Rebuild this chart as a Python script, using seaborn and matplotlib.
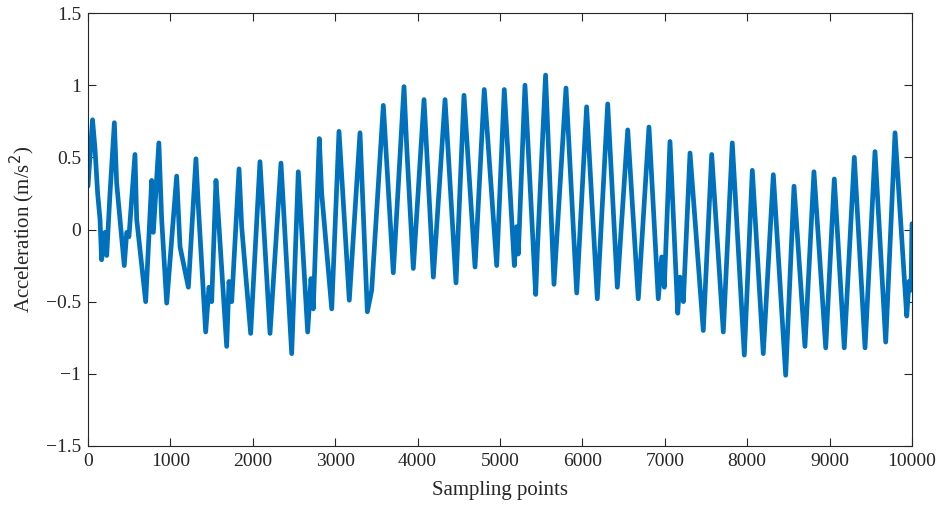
import matplotlib
matplotlib.use("Agg")
import matplotlib.pyplot as plt
import seaborn as sns
import pandas as pd
from matplotlib.ticker import FuncFormatter

# Turning points (sample index, acceleration m/s^2)
sample_idx = [0, 55, 85, 117, 146, 165, 206, 227, 267, 320, 348, 440, 470, 497, 570, 591,
              700, 773, 793, 860, 894, 955, 1076, 1117, 1218, 1310, 1339, 1428, 1468, 1501,
              1553, 1582, 1683, 1711, 1744, 1833, 1865, 1974, 2087, 2209, 2342, 2472, 2552,
              2666, 2706, 2734, 2807, 2836, 2958, 3046, 3171, 3301, 3390, 3443, 3584, 3705,
              3835, 3868, 3948, 4078, 4191, 4333, 4466, 4563, 4697, 4809, 4960, 5052, 5174,
              5203, 5222, 5303, 5433, 5453, 5553, 5655, 5801, 5931, 6051, 6181, 6307, 6424,
              6550, 6678, 6808, 6921, 6962, 6994, 7063, 7157, 7185, 7225, 7306, 7467, 7569,
              7710, 7819, 7965, 8062, 8195, 8317, 8467, 8568, 8701, 8810, 8953, 9057, 9178,
              9300, 9430, 9551, 9681, 9794, 9936, 9964, 9988, 10000]
accel = [0.30, 0.76, 0.56, 0.25, 0.07, -0.21, -0.02, -0.18, 0.25, 0.74, 0.32, -0.25, -0.02,
         -0.05, 0.52, 0.07, -0.50, 0.34, -0.02, 0.60, 0.07, -0.51, 0.37, -0.12, -0.40, 0.49,
         0.16, -0.71, -0.40, -0.50, 0.34, 0.09, -0.81, -0.36, -0.50, 0.42, 0.02, -0.72, 0.47,
         -0.72, 0.46, -0.86, 0.40, -0.71, -0.34, -0.55, 0.63, 0.25, -0.55, 0.68, -0.49, 0.67,
         -0.57, -0.42, 0.86, -0.30, 0.99, 0.57, -0.27, 0.90, -0.33, 0.90, -0.37, 0.93, -0.26,
         0.97, -0.25, 0.97, -0.25, 0.02, -0.17, 1.00, -0.45, -0.15, 1.07, -0.38, 0.98, -0.44,
         0.85, -0.48, 0.87, -0.40, 0.69, -0.48, 0.71, -0.48, -0.19, -0.40, 0.61, -0.58, -0.33,
         -0.50, 0.53, -0.70, 0.52, -0.71, 0.60, -0.87, 0.41, -0.86, 0.38, -1.01, 0.30, -0.81,
         0.40, -0.82, 0.35, -0.82, 0.50, -0.82, 0.54, -0.78, 0.67, -0.60, -0.36, -0.42, 0.04]

x_ticks = [0, 1000, 2000, 3000, 4000, 5000, 6000, 7000, 8000, 9000, 10000]
y_ticks = [-1.5, -1, -0.5, 0, 0.5, 1, 1.5]

sns.set_style("ticks")
plt.rcParams["font.family"] = ["Liberation Serif", "DejaVu Serif"]
plt.rcParams["axes.unicode_minus"] = True

df = pd.DataFrame({"Sampling points": sample_idx, "Acceleration": accel})

fig = plt.figure(figsize=(9.4, 5.12), dpi=100)
ax = fig.add_axes([88 / 940, 1 - 446 / 512, (912 - 88) / 940, (446 - 13) / 512])

sns.lineplot(data=df, x="Sampling points", y="Acceleration", ax=ax,
             color="#0072BD", linewidth=3.4, sort=False, estimator=None)

ax.set_xlim(0, 10000)
ax.set_ylim(-1.5, 1.5)
ax.set_xticks(x_ticks)
ax.set_yticks(y_ticks)


def fmt(v, pos):
    return ("%g" % v).replace("-", "\u2212")


ax.yaxis.set_major_formatter(FuncFormatter(fmt))
ax.xaxis.set_major_formatter(FuncFormatter(lambda v, p: "%d" % v))

for sp in ax.spines.values():
    sp.set_visible(True)
    sp.set_color("#262626")
    sp.set_linewidth(0.8)

ax.tick_params(direction="in", length=6, width=0.8, color="#262626",
               top=True, right=True, labelsize=14, labelcolor="#262626", pad=5)

ax.set_xlabel("Sampling points", fontsize=15, color="#262626", labelpad=8)
ax.set_ylabel("Acceleration (m/s$^2$)", fontsize=15, color="#262626", labelpad=6)

fig.savefig("out.png", dpi=100)
